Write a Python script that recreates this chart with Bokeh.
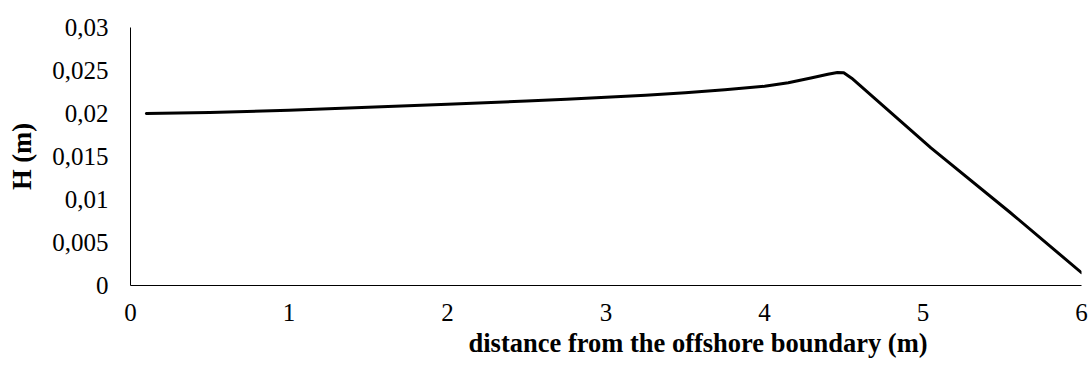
from bokeh.plotting import figure
from bokeh.models import FixedTicker, Range1d, Title
from bokeh.embed import file_html
from bokeh.resources import INLINE

# distance from the offshore boundary (m)
dist = [0.1, 0.5, 1.0, 1.5, 2.0, 2.5, 2.75, 3.0, 3.25, 3.5, 3.75, 4.0, 4.15, 4.3,
        4.4, 4.46, 4.5, 4.55, 5.05, 5.55, 6.0]
# wave height H (m)
H = [0.01999, 0.02013, 0.02038, 0.02072, 0.02108, 0.02146, 0.02166, 0.02188, 0.02212,
     0.02242, 0.02275, 0.02318, 0.02357, 0.02415, 0.02457, 0.02477, 0.02474, 0.02410,
     0.01600, 0.00849, 0.00149]

y_ticks = [0, 0.005, 0.01, 0.015, 0.02, 0.025, 0.03]
y_labels = ["0", "0,005", "0,01", "0,015", "0,02", "0,025", "0,03"]
x_ticks = [0, 1, 2, 3, 4, 5, 6]

FONT = "Liberation Serif"

p = figure(width=1092, height=370, output_backend="svg", toolbar_location=None,
           x_range=Range1d(0, 6), y_range=Range1d(0, 0.03),
           min_border_left=130, min_border_right=11, min_border_top=27, min_border_bottom=85)
p.outline_line_color = None
p.grid.grid_line_color = None
p.background_fill_color = "white"
p.border_fill_color = "white"

p.line(dist, H, line_color="black", line_width=3, line_join="round", line_cap="round")

for ax in (p.xaxis[0], p.yaxis[0]):
    ax.axis_line_color = "black"
    ax.axis_line_width = 1
    ax.major_tick_line_color = None
    ax.minor_tick_line_color = None
    ax.major_tick_out = 0
    ax.major_tick_in = 0
    ax.major_label_text_font = FONT
    ax.major_label_text_font_size = "25px"
    ax.major_label_text_color = "black"
    ax.axis_label_text_font = FONT
    ax.axis_label_text_font_size = "26.5px"
    ax.axis_label_text_font_style = "bold"
    ax.axis_label_text_color = "black"

p.yaxis.ticker = FixedTicker(ticks=y_ticks)
p.yaxis.major_label_overrides = dict(zip(y_ticks, y_labels))
p.yaxis.major_label_standoff = 22
p.yaxis.axis_label = "H (m)"
p.yaxis.axis_label_standoff = 12

p.xaxis.ticker = FixedTicker(ticks=x_ticks)
p.xaxis.major_label_standoff = 18

xt = Title(text="distance from the offshore boundary (m)", align="left", offset=338,
           text_font=FONT, text_font_size="26.5px", text_font_style="bold",
           text_color="black", standoff=5)
p.add_layout(xt, "below")

open("out.html", "w").write(file_html(p, INLINE))
